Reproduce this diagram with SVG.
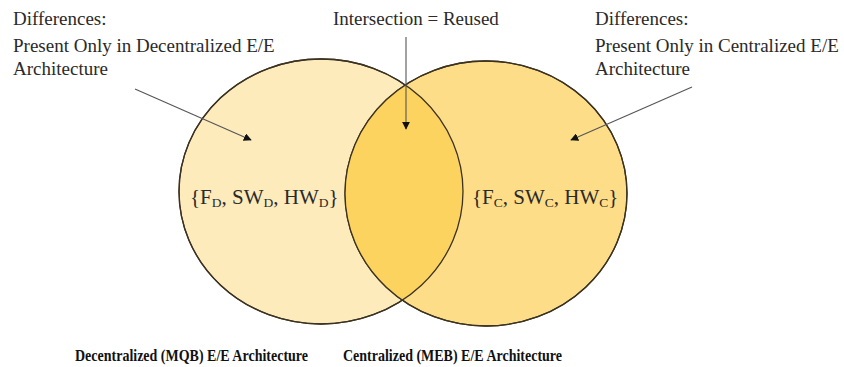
<svg xmlns="http://www.w3.org/2000/svg" width="844" height="367" viewBox="0 0 844 367">
<style>
.t{font-family:"Liberation Serif","Times New Roman",serif;font-size:19px;fill:#2a2a2a}
.s{font-family:"Liberation Serif","Times New Roman",serif;font-size:21px;fill:#2a2a2a}
.sub{font-size:13.5px}
.b{font-family:"Liberation Serif","Times New Roman",serif;font-size:16.5px;font-weight:bold;fill:#111}
.c{stroke:#3b3222;stroke-width:1.3}
.a{stroke:#555;stroke-width:1.1;fill:none;marker-end:url(#ah)}
</style>
<defs>
<marker id="ah" viewBox="0 0 10 10" refX="9" refY="5" markerWidth="8" markerHeight="8" markerUnits="userSpaceOnUse" orient="auto">
<path d="M0,0 L10,5 L0,10 z" fill="#111"/>
</marker>
<clipPath id="clipL"><ellipse cx="321" cy="191.5" rx="142" ry="132.5"/></clipPath>
</defs>
<rect width="844" height="367" fill="#fff"/>
<g id="left-set">
<ellipse class="c" cx="321" cy="191.5" rx="142" ry="132.5" fill="#FDEBBC"/>
</g>
<g id="right-set">
<ellipse class="c" cx="486" cy="193.5" rx="141" ry="132.5" fill="#FDDD88"/>
</g>
<g id="intersection">
<ellipse cx="486" cy="193.5" rx="141" ry="132.5" fill="#FDD35F" clip-path="url(#clipL)"/>
<ellipse cx="321" cy="191.5" rx="142" ry="132.5" fill="none" class="c"/>
<ellipse cx="486" cy="193.5" rx="141" ry="132.5" fill="none" class="c"/>
</g>
<g id="connectors">
<line class="a" x1="135" y1="89" x2="251" y2="140"/>
<line class="a" x1="406" y1="37" x2="406" y2="129"/>
<line class="a" x1="692" y1="87" x2="571" y2="140"/>
</g>
<g id="label-left">
<text class="t" x="13" y="25">Differences:</text>
<text class="t" x="13" y="52">Present Only in Decentralized E/E</text>
<text class="t" x="13" y="75">Architecture</text>
</g>
<g id="label-mid">
<text class="t" x="333" y="25">Intersection = Reused</text>
</g>
<g id="label-right">
<text class="t" x="595" y="25">Differences:</text>
<text class="t" x="595" y="52">Present Only in Centralized E/E</text>
<text class="t" x="595" y="75">Architecture</text>
</g>
<g id="set-left-text">
<text class="s" x="190" y="204">{F<tspan class="sub" dy="3">D</tspan><tspan dy="-3">, SW</tspan><tspan class="sub" dy="3">D</tspan><tspan dy="-3">, HW</tspan><tspan class="sub" dy="3">D</tspan><tspan dy="-3">}</tspan></text>
</g>
<g id="set-right-text">
<text class="s" x="472" y="204">{F<tspan class="sub" dy="3">C</tspan><tspan dy="-3">, SW</tspan><tspan class="sub" dy="3">C</tspan><tspan dy="-3">, HW</tspan><tspan class="sub" dy="3">C</tspan><tspan dy="-3">}</tspan></text>
</g>
<g id="caption-left">
<text class="b" x="75" y="361" textLength="233" lengthAdjust="spacingAndGlyphs">Decentralized (MQB) E/E Architecture</text>
</g>
<g id="caption-right">
<text class="b" x="343" y="361" textLength="219" lengthAdjust="spacingAndGlyphs">Centralized (MEB) E/E Architecture</text>
</g>
</svg>
